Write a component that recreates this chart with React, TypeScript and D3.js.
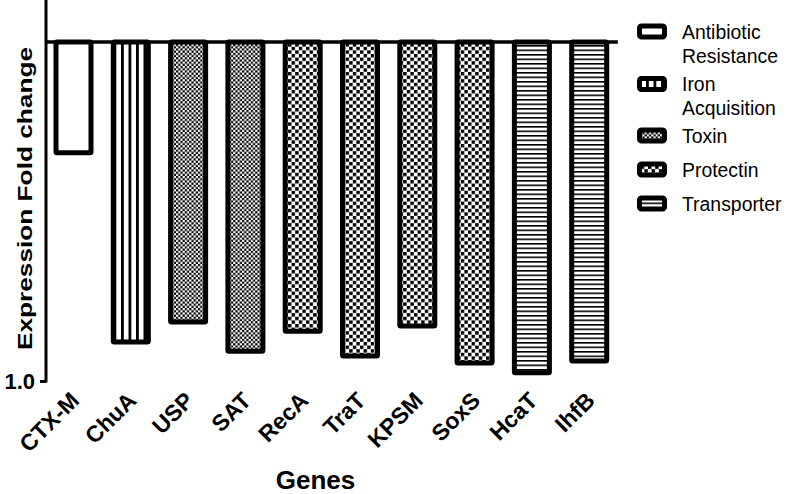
import React, { useEffect, useRef } from 'react';
import * as d3 from 'd3';

// gene names and the fold change (bars hang from the 0 line)
const genes = ['CTX-M', 'ChuA', 'USP', 'SAT', 'RecA', 'TraT', 'KPSM', 'SoxS', 'HcaT', 'IhfB'];
const foldChange = [0.327, 0.885, 0.826, 0.912, 0.853, 0.926, 0.838, 0.947, 0.976, 0.941];
const geneGroup = ['abr', 'iron', 'toxin', 'toxin', 'prot', 'prot', 'prot', 'prot', 'trans', 'trans'];

const legendKeys = ['abr', 'iron', 'toxin', 'prot', 'trans'];
const legendLabels = [['Antibiotic', 'Resistance'], ['Iron', 'Acquisition'], ['Toxin'], ['Protectin'], ['Transporter']];
const yTickValues = [1.0];

const FONT = 'Liberation Sans, Arial, Helvetica, sans-serif';

const App = () => {
  const ref = useRef(null);

  useEffect(() => {
    const svg = d3.select(ref.current)
      .attr('width', 787)
      .attr('height', 494)
      .style('background', '#fff');
    svg.selectAll('*').remove();

    const defs = svg.append('defs');

    // vertical lines (iron acquisition)
    const pIron = defs.append('pattern').attr('id', 'p-iron')
      .attr('patternUnits', 'userSpaceOnUse').attr('width', 7.5).attr('height', 10).attr('x', 1);
    pIron.append('rect').attr('width', 7.5).attr('height', 10).attr('fill', '#fff');
    pIron.append('rect').attr('x', 0).attr('width', 2.8).attr('height', 10).attr('fill', '#000');

    // fine checker (toxin)
    const pTox = defs.append('pattern').attr('id', 'p-toxin')
      .attr('patternUnits', 'userSpaceOnUse').attr('width', 4.4).attr('height', 4.4);
    pTox.append('rect').attr('width', 4.4).attr('height', 4.4).attr('fill', '#fff');
    pTox.append('rect').attr('width', 2.2).attr('height', 2.2).attr('fill', '#000');
    pTox.append('rect').attr('x', 2.2).attr('y', 2.2).attr('width', 2.2).attr('height', 2.2).attr('fill', '#000');

    // coarse checker (protectin)
    const pProt = defs.append('pattern').attr('id', 'p-prot')
      .attr('patternUnits', 'userSpaceOnUse').attr('width', 7.2).attr('height', 7.2);
    pProt.append('rect').attr('width', 7.2).attr('height', 7.2).attr('fill', '#fff');
    pProt.append('rect').attr('width', 3.4).attr('height', 3.4).attr('fill', '#000');
    pProt.append('rect').attr('x', 3.6).attr('y', 3.6).attr('width', 3.4).attr('height', 3.4).attr('fill', '#000');

    // horizontal lines (transporter)
    const pTr = defs.append('pattern').attr('id', 'p-trans')
      .attr('patternUnits', 'userSpaceOnUse').attr('width', 10).attr('height', 4.5);
    pTr.append('rect').attr('width', 10).attr('height', 4.5).attr('fill', '#fff');
    pTr.append('rect').attr('y', 0).attr('width', 10).attr('height', 1.6).attr('fill', '#000');

    const fillFor = {
      abr: '#fff',
      iron: 'url(#p-iron)',
      toxin: 'url(#p-toxin)',
      prot: 'url(#p-prot)',
      trans: 'url(#p-trans)',
    };

    const x = d3.scaleBand()
      .domain(genes)
      .range([44.85, 617.85])
      .paddingInner(0.389)
      .paddingOuter(0.1945);

    const y = d3.scaleLinear()
      .domain([-0.124, 1.0])
      .range([0, 381]);

    // bars
    svg.append('g')
      .selectAll('rect')
      .data(genes)
      .enter().append('rect')
      .attr('x', d => x(d))
      .attr('y', y(0))
      .attr('width', x.bandwidth())
      .attr('height', (d, i) => y(foldChange[i]) - y(0))
      .attr('fill', (d, i) => fillFor[geneGroup[i]])
      .attr('stroke', '#000')
      .attr('stroke-width', 5)
      .attr('rx', 1);

    // zero line
    svg.append('line')
      .attr('x1', 46).attr('x2', x.range()[1])
      .attr('y1', y(0)).attr('y2', y(0))
      .attr('stroke', '#000').attr('stroke-width', 3.5);

    // y axis
    const yAxis = svg.append('g')
      .attr('transform', 'translate(46,0)')
      .call(d3.axisLeft(y).tickValues(yTickValues).tickSize(6).tickSizeOuter(0).tickFormat(d3.format('.1f')));
    yAxis.select('.domain').attr('stroke-width', 3).attr('d', `M0,${y.range()[0]}V${y(1.0) + 1.5}`);
    yAxis.selectAll('.tick line').attr('stroke-width', 3);
    yAxis.selectAll('.tick text')
      .attr('x', -11)
      .attr('dy', '0.35em')
      .style('font-family', FONT)
      .style('font-size', '22px')
      .style('font-weight', 'bold')
      .style('fill', '#000');

    // x labels (rotated)
    svg.append('g')
      .selectAll('text')
      .data(genes)
      .enter().append('text')
      .attr('transform', d => `translate(${x(d) + x.bandwidth() / 2 + 7},402) rotate(-45)`)
      .attr('text-anchor', 'end')
      .style('font-family', FONT)
      .style('font-size', '23px')
      .style('font-weight', 'bold')
      .text(d => d);

    // axis titles
    svg.append('text')
      .attr('x', 315.5).attr('y', 489)
      .attr('text-anchor', 'middle')
      .style('font-family', FONT)
      .style('font-size', '26px')
      .style('font-weight', 'bold')
      .text('Genes');

    svg.append('text')
      .attr('transform', 'translate(32,198.5) rotate(-90)')
      .attr('text-anchor', 'middle')
      .attr('textLength', 303)
      .attr('lengthAdjust', 'spacingAndGlyphs')
      .style('font-family', FONT)
      .style('font-size', '21px')
      .style('font-weight', 'bold')
      .text('Expression Fold change');

    // legend
    const legendY = [31.5, 84, 135.5, 169.5, 203.5];
    const lg = svg.append('g');
    legendKeys.forEach((k, i) => {
      lg.append('rect')
        .attr('x', 639.5).attr('y', legendY[i] - 5.5)
        .attr('width', 25).attr('height', 11)
        .attr('rx', 2)
        .attr('fill', fillFor[k])
        .attr('stroke', '#000')
        .attr('stroke-width', 5);
      const t = lg.append('text')
        .attr('x', 682).attr('y', legendY[i] + 7)
        .style('font-family', FONT)
        .style('font-size', '19.4px');
      legendLabels[i].forEach((line, j) => {
        t.append('tspan').attr('x', 682).attr('dy', j === 0 ? 0 : 24).text(line);
      });
    });
  }, []);

  return (
    <svg ref={ref} style={{ position: 'absolute', left: 0, top: 0, display: 'block' }}></svg>
  );
};

export default App;
